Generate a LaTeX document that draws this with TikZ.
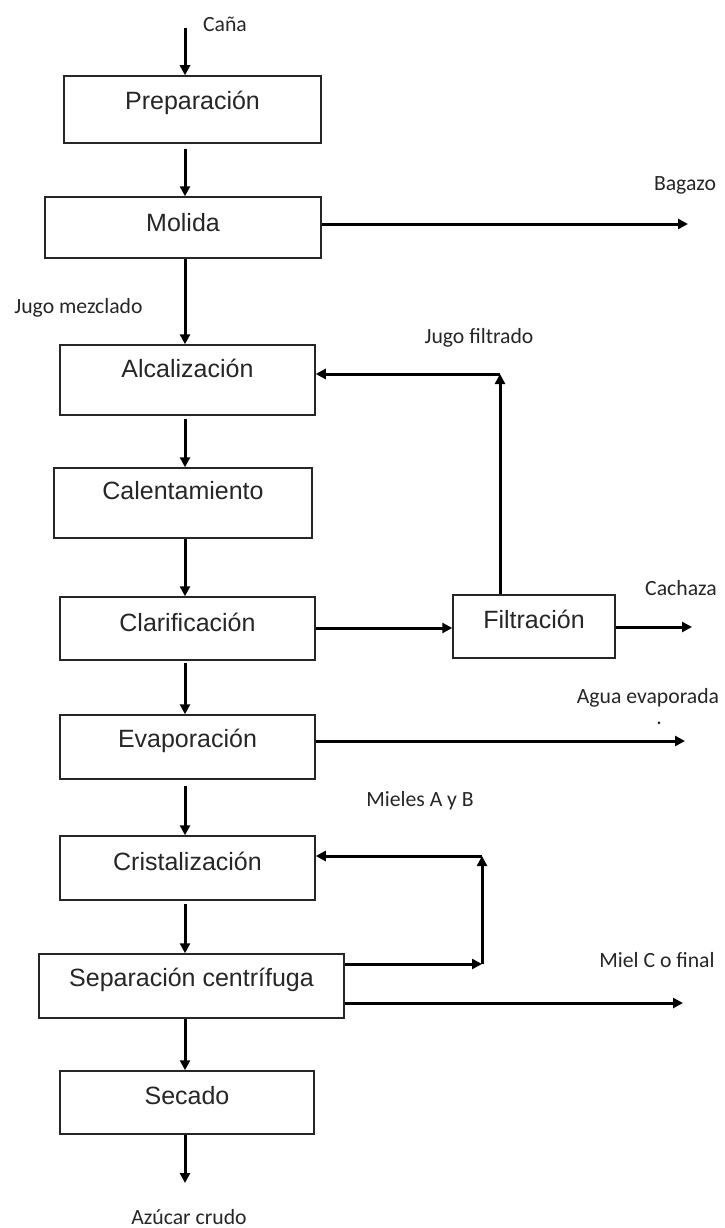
\documentclass[tikz,border=0pt]{standalone}
\usepackage{fontspec}
\setmainfont{Liberation Sans}
\newfontfamily\lblfont{Carlito}
\usetikzlibrary{arrows.meta}
\begin{document}
\begin{tikzpicture}[x=1pt,y=-1pt,
  box/.style={draw=black!85, line width=1.5pt, inner sep=0pt, text height=0pt, text depth=0pt,
    font=\fontsize{25}{25}\selectfont, text=black!85, anchor=center},
  flow/.style={line width=3pt, -{Triangle[length=10pt,width=10pt]}},
  lbl/.style={font=\lblfont\fontsize{21.7}{22}\selectfont, inner sep=0pt, text=black!85}]
\useasboundingbox (0,0) rectangle (725,1228);
\fill[white] (0,0) rectangle (725,1228);
% process boxes
\node[box, minimum width=257pt, minimum height=67pt] (prep) at (192.5,109.5) {Preparación};
\node[box, minimum width=276pt, minimum height=61pt] (mol) at (183,227.5) {\raisebox{-4pt}{Molida}};
\node[box, minimum width=255pt, minimum height=70pt] (alcal) at (187.5,380) {\raisebox{2.5pt}{Alcalización}};
\node[box, minimum width=258pt, minimum height=70pt] (calent) at (183,503) {\raisebox{3.5pt}{Calentamiento}};
\node[box, minimum width=255pt, minimum height=63pt] (clarif) at (187.5,628.5) {\raisebox{-3pt}{Clarificación}};
\node[box, minimum width=255pt, minimum height=64pt] (evap) at (187.5,747) {Evaporación};
\node[box, minimum width=255pt, minimum height=64pt] (crist) at (187.5,868) {\raisebox{-2.5pt}{Cristalización}};
\node[box, minimum width=305pt, minimum height=64pt] (sep) at (191.5,986) {Separación centrífuga\hspace{26pt}};
\node[box, minimum width=254pt, minimum height=63pt] (secado) at (187,1102.5) {\raisebox{-2pt}{Secado}};
\node[box, minimum width=162pt, minimum height=63pt] (filt) at (534,626.5) {\raisebox{-2pt}{Filtración}\hspace{23pt}};
% helper coordinates
\coordinate (ax) at (185,0);
\coordinate (cana) at (185,28);
\coordinate (az) at (185,1183);
\coordinate (bag) at (688,224);
\coordinate (jf) at (500,374);
\coordinate (cf) at (0,628);
\coordinate (cach) at (692,627);
\coordinate (agua) at (685,741);
\coordinate (mr) at (482,964);
\coordinate (mt) at (482,856);
\coordinate (mc) at (683,1003);
% main line
\draw[flow] (cana) -- (prep.north -| ax);
\draw[flow, shorten <=5pt] (prep.south -| ax) -- (mol.north -| ax);
\draw[flow] (mol.south -| ax) -- (alcal.north -| ax);
\draw[flow, shorten <=3pt] (alcal.south -| ax) -- (calent.north -| ax);
\draw[flow] (calent.south -| ax) -- (clarif.north -| ax);
\draw[flow, shorten <=2pt] (clarif.south -| ax) -- (evap.north -| ax);
\draw[flow, shorten <=6pt] (evap.south -| ax) -- (crist.north -| ax);
\draw[flow, shorten <=3pt] (crist.south -| ax) -- (sep.north -| ax);
\draw[flow] (sep.south -| ax) -- (secado.north -| ax);
\draw[flow] (secado.south -| ax) -- (az);
% side streams
\draw[flow] (mol.east |- bag) -- (bag);
\draw[flow] (filt.north -| jf) -- (jf);
\draw[flow] (jf) -- (alcal.east |- jf);
\draw[flow] (clarif.east |- cf) -- (filt.west |- cf);
\draw[flow] (filt.east |- cach) -- (cach);
\draw[flow] (evap.east |- agua) -- (agua);
\draw[flow] (sep.east |- mr) -- (mr);
\draw[flow] (mr) -- (mt);
\draw[flow] (mt) -- (crist.east |- mt);
\draw[flow] (sep.east |- mc) -- (mc);
% labels
\node[lbl] (lcana) at (225,24) {Caña};
\node[lbl] (lbag) at (685,185) {Bagazo};
\node[lbl] (ljm) at (78.5,308) {Jugo mezclado};
\node[lbl] (ljf) at (479,338) {Jugo filtrado};
\node[lbl] (lcach) at (681,588) {Cachaza};
\node[lbl] (lagua) at (648,698) {Agua evaporada};
\node[lbl, anchor=base] (ldot) at (659,724) {.};
\node[lbl] (lmab) at (420,801) {Mieles A y B};
\node[lbl] (lmc) at (657,960) {Miel C o final};
\node[lbl] (laz) at (189,1217) {Azúcar crudo};
\end{tikzpicture}
\end{document}
